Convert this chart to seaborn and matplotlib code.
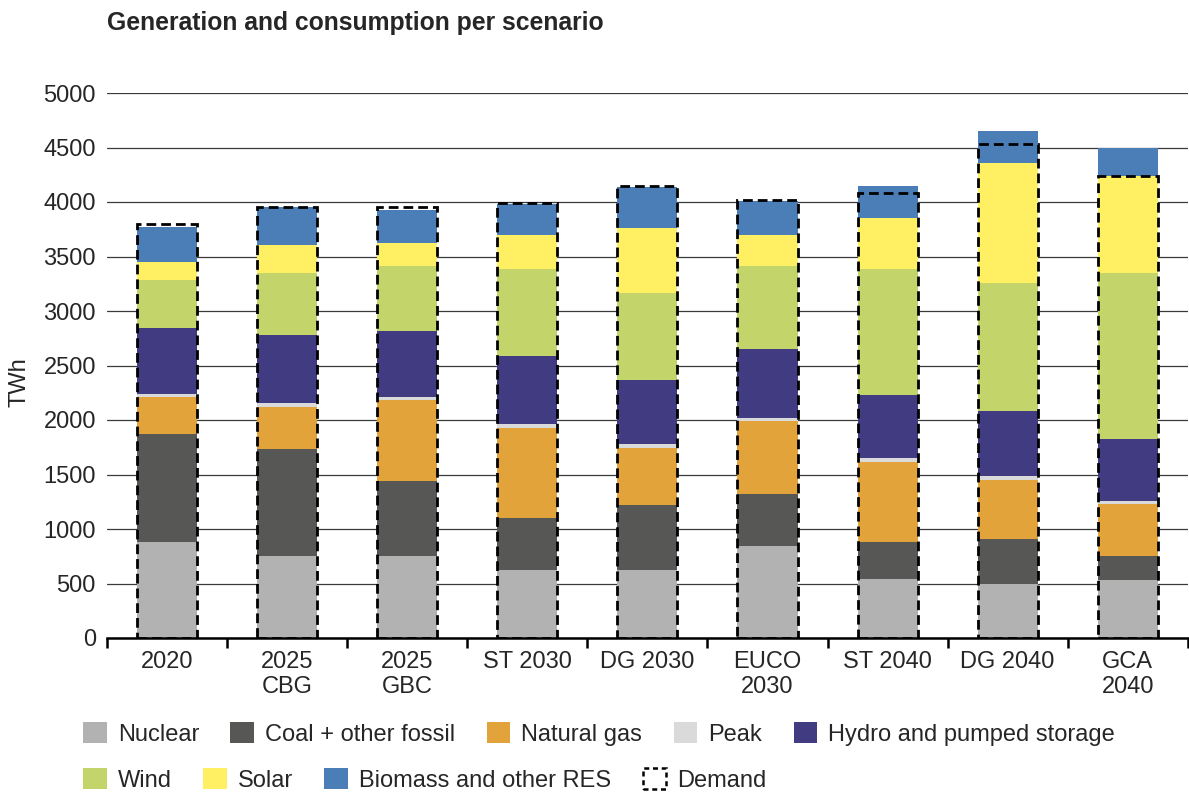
import matplotlib
matplotlib.use("Agg")
import matplotlib.pyplot as plt
import seaborn as sns
import numpy as np
from matplotlib.patches import Rectangle

# ---- data (TWh) ----
categories = ["2020", "2025\nCBG", "2025\nGBC", "ST 2030", "DG 2030",
              "EUCO\n2030", "ST 2040", "DG 2040", "GCA\n2040"]
nuclear = [885, 755, 755, 627, 627, 848, 537, 500, 528]
coal = [985, 978, 689, 476, 597, 475, 342, 410, 227]
natural_gas = [341, 382, 736, 823, 522, 665, 736, 540, 472]
peak = [32, 37, 35, 37, 31, 34, 34, 35, 34]
hydro = [599, 625, 599, 621, 587, 631, 584, 593, 568]
wind = [441, 568, 596, 798, 798, 757, 1149, 1177, 1516]
solar = [165, 258, 218, 314, 596, 286, 469, 1103, 895]
biomass = [326, 348, 301, 289, 382, 311, 296, 292, 254]
demand = [3796, 3957, 3957, 3988, 4143, 4016, 4084, 4529, 4240]

series_names = ["Nuclear", "Coal + other fossil", "Natural gas", "Peak",
                "Hydro and pumped storage", "Wind", "Solar", "Biomass and other RES"]
series_values = [nuclear, coal, natural_gas, peak, hydro, wind, solar, biomass]
series_colors = ["#B2B2B2", "#575756", "#E3A33B", "#DADADA",
                 "#413B82", "#C3D46B", "#FEF062", "#4B7EB7"]
yticks = [0, 500, 1000, 1500, 2000, 2500, 3000, 3500, 4000, 4500, 5000]

sns.set_theme(style="white")
plt.rcParams["font.family"] = ["Liberation Sans", "DejaVu Sans"]
FS = 17

fig = plt.figure(figsize=(11.89, 7.92), dpi=100)
ax = fig.add_axes([107 / 1189, 1 - 638 / 792, 1 - 107 / 1189 - 0.001, (638 - 93) / 792])

bottom = np.zeros(len(categories))
for name, vals, col in zip(series_names, series_values, series_colors):
    sns.barplot(x=categories, y=vals, order=categories, color=col, width=0.5,
                bottom=bottom.copy(), errorbar=None, ax=ax, linewidth=0,
                saturation=1, zorder=2)
    bottom += np.array(vals)

sns.barplot(x=categories, y=demand, order=categories, width=0.5, fill=False,
            color="black", errorbar=None, ax=ax, linewidth=2.0,
            linestyle=(0, (3.5, 1.8)), zorder=3)
for p in ax.patches[-len(categories):]:
    p.set_edgecolor("black")
    p.set_facecolor("none")

ax.set_ylim(0, 5000)
ax.set_xlim(-0.5, len(categories) - 0.5)
ax.set_yticks(yticks)
ax.set_yticklabels([str(v) for v in yticks], fontsize=FS)
ax.yaxis.grid(True, color="#3a3a3a", linewidth=0.9)
ax.xaxis.grid(False)
ax.set_axisbelow(True)

for s in ["top", "right", "left"]:
    ax.spines[s].set_visible(False)
ax.spines["bottom"].set_color("black")
ax.spines["bottom"].set_linewidth(1.8)
ax.spines["bottom"].set_zorder(4)

ax.set_xticks(range(len(categories)))
ax.set_xticklabels(categories, fontsize=FS, linespacing=1.2)
ax.set_xticks(np.arange(-0.5, len(categories), 1.0), minor=True)
ax.tick_params(axis="x", which="major", length=0, pad=9)
ax.tick_params(axis="x", which="minor", length=7, width=1.8, color="black",
               direction="out", bottom=True)
ax.tick_params(axis="y", length=0, pad=8)
ax.set_xlabel("")
ax.set_ylabel("TWh", fontsize=FS)
ax.yaxis.set_label_coords(-0.071, 0.47)

fig.text(107 / 1189, 1 - 23 / 792, "Generation and consumption per scenario",
         fontsize=17.8, fontweight="bold", va="center", ha="left")

# legends (two rows, flowing)
handles = [Rectangle((0, 0), 1, 1, facecolor=c, edgecolor="none") for c in series_colors]
demand_handle = Rectangle((0, 0), 1, 1, facecolor="white", edgecolor="black",
                          linewidth=1.8, linestyle=(0, (2, 1.5)))
leg_kw = dict(frameon=False, fontsize=FS, handlelength=1.0, handleheight=1.0,
              handletextpad=0.47, columnspacing=1.33, borderpad=0, borderaxespad=0,
              loc="center left")
leg1 = fig.legend(handles[:5], series_names[:5], ncol=5,
                  bbox_to_anchor=(83 / 1189, 1 - 734 / 792), **leg_kw)
leg2 = fig.legend(handles[5:] + [demand_handle], series_names[5:] + ["Demand"], ncol=4,
                  bbox_to_anchor=(83 / 1189, 1 - 780 / 792), **leg_kw)

fig.savefig("out.png", dpi=100)
